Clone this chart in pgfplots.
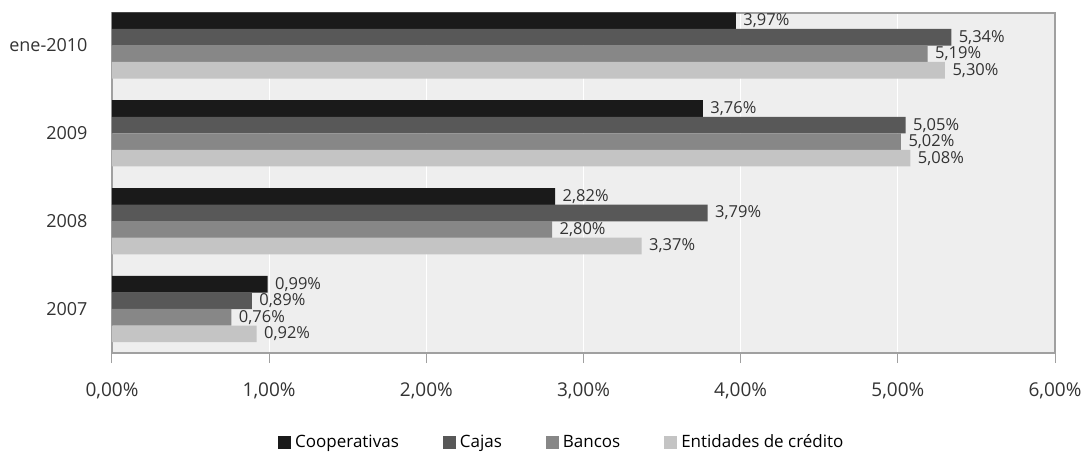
\documentclass[border=0pt]{standalone}
\usepackage{fontspec}
\setmainfont{Open Sans}
\usepackage{pgfplots}
\pgfplotsset{compat=1.18}
\definecolor{cCoop}{HTML}{1A1A1A}
\definecolor{cCaja}{HTML}{585858}
\definecolor{cBanc}{HTML}{878787}
\definecolor{cEnti}{HTML}{C4C4C4}
\definecolor{bgc}{HTML}{EEEEEE}
\definecolor{frm}{HTML}{A0A0A0}
\definecolor{txt}{HTML}{333333}
\begin{document}
\begin{tikzpicture}
\useasboundingbox (-112pt,-122pt) rectangle (974pt,353pt);
\begin{axis}[
  scale only axis,
  width=943pt, height=340pt,
  xmin=0, xmax=6, ymin=-0.5, ymax=3.37,
  xbar, bar width=0.19,
  axis background/.style={fill=bgc},
  axis line style={frm, line width=1.2pt},
  xtick={0,1,2,3,4,5,6},
  xmajorgrids, grid style={white, line width=1.2pt},
  ytick={0,1,2,3},
  yticklabels={2007,2008,2009,ene-2010},
  minor ytick={-0.5,0.5,1.5,2.5},
  tick style={frm, line width=1pt},
  ytick style={draw=none},
  minor tick style={draw=frm, line width=1pt},
  minor tick length=9pt,
  major tick length=10pt,
  xtick align=outside, ytick align=outside,
  tick pos=left,
  x tick label style={font=\fontsize{19}{22}\selectfont, color=txt, yshift=-16pt},
  y tick label style={font=\fontsize{18}{21}\selectfont, color=txt, xshift=-11pt},
  xticklabel={\pgfmathprintnumber[fixed,fixed zerofill,precision=2,use comma]{\tick}\%},
  /pgf/number format/assume math mode=true,
  nodes near coords={\pgfmathprintnumber[fixed,fixed zerofill,precision=2,use comma,assume math mode=true]{\pgfplotspointmeta}\%},
  nodes near coords style={font=\fontsize{16.5}{18}\selectfont, color=txt, anchor=west, xshift=4pt},
  legend style={at={(0.477,-0.262)}, anchor=center, draw=none, fill=none,
    legend columns=4, font=\fontsize{17}{20}\selectfont,
    /tikz/every odd column/.append style={column sep=2pt},
    /tikz/every even column/.append style={column sep=42pt}},
  legend image code/.code={\fill[#1,draw=none] (0pt,-6.5pt) rectangle (13pt,6.5pt);},
  clip=false,
]
\addplot[fill=cCoop, draw=none, bar shift=0.282] coordinates {(0.99,0) (2.82,1) (3.76,2) (3.97,3)};
\addplot[fill=cCaja, draw=none, bar shift=0.094] coordinates {(0.89,0) (3.79,1) (5.05,2) (5.34,3)};
\addplot[fill=cBanc, draw=none, bar shift=-0.094] coordinates {(0.76,0) (2.80,1) (5.02,2) (5.19,3)};
\addplot[fill=cEnti, draw=none, bar shift=-0.282] coordinates {(0.92,0) (3.37,1) (5.08,2) (5.30,3)};
\legend{Cooperativas, Cajas, Bancos, Entidades de crédito}
\end{axis}
\end{tikzpicture}
\end{document}
